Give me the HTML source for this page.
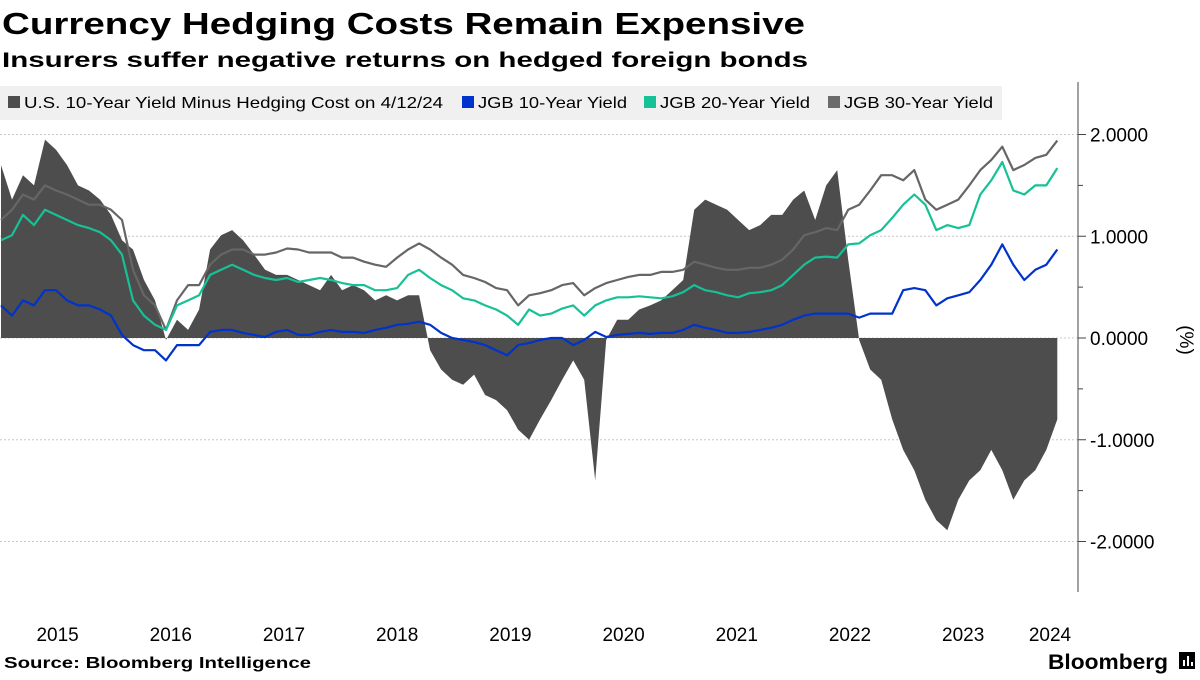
<!DOCTYPE html>
<html><head><meta charset="utf-8"><style>
body{margin:0;background:#fff;width:1200px;height:675px;overflow:hidden;font-family:"Liberation Sans",sans-serif}
svg text{font-family:"Liberation Sans",sans-serif}
</style></head><body>
<svg id="c" width="1200" height="675" xmlns="http://www.w3.org/2000/svg">
<text x="2" y="34" font-size="31" font-weight="bold" fill="#000" textLength="803" lengthAdjust="spacingAndGlyphs">Currency Hedging Costs Remain Expensive</text>
<text x="2" y="67" font-size="21" font-weight="bold" fill="#000" textLength="806" lengthAdjust="spacingAndGlyphs">Insurers suffer negative returns on hedged foreign bonds</text>
<g id="grid"></g>
<g id="plot"></g>
<g>
<rect x="0" y="86" width="1002" height="34" fill="#f0f0f0"/>
<g><rect x="8" y="96" width="12" height="12" fill="#4d4d4d"/><text x="24" y="108" font-size="16" textLength="419" lengthAdjust="spacingAndGlyphs">U.S. 10-Year Yield Minus Hedging Cost on 4/12/24</text></g>
<g><rect x="462" y="96" width="12" height="12" fill="#0033cc"/><text x="478" y="108" font-size="16" textLength="149" lengthAdjust="spacingAndGlyphs">JGB 10-Year Yield</text></g>
<g><rect x="644" y="96" width="12" height="12" fill="#17c196"/><text x="660" y="108" font-size="16" textLength="150" lengthAdjust="spacingAndGlyphs">JGB 20-Year Yield</text></g>
<g><rect x="828" y="96" width="12" height="12" fill="#6b6b6b"/><text x="844" y="108" font-size="16" textLength="149" lengthAdjust="spacingAndGlyphs">JGB 30-Year Yield</text></g>
</g>
<g id="yaxis"></g>
<g id="xaxis"></g>
<text transform="translate(1180,340) rotate(90)" text-anchor="middle" font-size="19">(%)</text>
<text x="4" y="668" font-size="16" font-weight="bold" textLength="307" lengthAdjust="spacingAndGlyphs">Source: Bloomberg Intelligence</text>
<text x="1048" y="669" font-size="21" font-weight="bold" textLength="120" lengthAdjust="spacingAndGlyphs">Bloomberg</text>
<g><rect x="1179" y="652" width="16" height="17" fill="#000"/><rect x="1183" y="660" width="2" height="6" fill="#fff"/><rect x="1187" y="656" width="2" height="10" fill="#fff"/><rect x="1191" y="662" width="2" height="4" fill="#fff"/></g>
</svg>
<script>
const startYear = 2015.0;
const stepYears = 0.0972;
const hedged = [1.70,1.36,1.60,1.50,1.95,1.85,1.70,1.50,1.45,1.36,1.21,0.96,0.87,0.57,0.37,-0.02,0.18,0.08,0.28,0.87,1.01,1.06,0.96,0.82,0.67,0.62,0.62,0.57,0.52,0.47,0.62,0.47,0.52,0.47,0.37,0.42,0.37,0.42,0.42,-0.12,-0.31,-0.41,-0.46,-0.36,-0.56,-0.61,-0.71,-0.90,-1.00,-0.80,-0.61,-0.41,-0.22,-0.41,-1.40,-0.02,0.18,0.18,0.28,0.32,0.37,0.47,0.57,1.26,1.36,1.31,1.26,1.16,1.06,1.11,1.21,1.21,1.36,1.45,1.16,1.50,1.65,0.77,-0.02,-0.31,-0.41,-0.80,-1.10,-1.30,-1.59,-1.79,-1.89,-1.59,-1.40,-1.30,-1.10,-1.30,-1.59,-1.40,-1.30,-1.10,-0.80];
const jgb10 = [0.32,0.22,0.37,0.32,0.47,0.47,0.37,0.32,0.32,0.28,0.22,0.03,-0.07,-0.12,-0.12,-0.22,-0.07,-0.07,-0.07,0.06,0.08,0.08,0.05,0.03,0.01,0.06,0.08,0.03,0.03,0.06,0.08,0.06,0.06,0.05,0.08,0.10,0.13,0.14,0.16,0.13,0.05,0.00,-0.02,-0.04,-0.07,-0.12,-0.17,-0.07,-0.05,-0.02,0.00,0.00,-0.07,-0.02,0.06,0.01,0.03,0.04,0.05,0.04,0.05,0.05,0.08,0.13,0.10,0.08,0.05,0.05,0.06,0.08,0.10,0.13,0.18,0.22,0.24,0.24,0.24,0.24,0.20,0.24,0.24,0.24,0.47,0.49,0.47,0.32,0.39,0.42,0.45,0.57,0.72,0.92,0.72,0.57,0.67,0.72,0.87];
const jgb20 = [0.96,1.01,1.21,1.11,1.26,1.21,1.16,1.11,1.08,1.04,0.96,0.82,0.37,0.22,0.13,0.08,0.32,0.37,0.42,0.62,0.67,0.72,0.67,0.62,0.59,0.57,0.59,0.55,0.57,0.59,0.57,0.54,0.52,0.52,0.47,0.47,0.49,0.62,0.67,0.59,0.52,0.47,0.39,0.37,0.32,0.28,0.22,0.13,0.28,0.22,0.24,0.29,0.32,0.22,0.32,0.37,0.40,0.40,0.41,0.40,0.39,0.41,0.45,0.52,0.47,0.45,0.42,0.40,0.44,0.45,0.47,0.52,0.62,0.72,0.79,0.80,0.79,0.92,0.93,1.01,1.06,1.18,1.31,1.41,1.31,1.06,1.11,1.08,1.11,1.41,1.55,1.73,1.45,1.41,1.50,1.50,1.67];
const jgb30 = [1.16,1.26,1.41,1.36,1.50,1.45,1.41,1.36,1.31,1.31,1.26,1.16,0.67,0.42,0.32,0.08,0.37,0.52,0.52,0.72,0.82,0.87,0.87,0.82,0.82,0.84,0.88,0.87,0.84,0.84,0.84,0.79,0.79,0.75,0.72,0.70,0.79,0.87,0.93,0.87,0.79,0.72,0.62,0.59,0.55,0.49,0.47,0.32,0.42,0.44,0.47,0.52,0.54,0.42,0.49,0.54,0.57,0.60,0.62,0.62,0.65,0.65,0.67,0.75,0.72,0.69,0.67,0.67,0.69,0.69,0.72,0.77,0.87,1.01,1.04,1.08,1.06,1.26,1.31,1.45,1.60,1.60,1.55,1.65,1.36,1.26,1.31,1.36,1.50,1.65,1.75,1.88,1.65,1.70,1.77,1.80,1.94];
const yTicks = [2,1,0,-1,-2];
const yTickLabels = ["2.0000","1.0000","0.0000","-1.0000","-2.0000"];
const xYears = [2015,2016,2017,2018,2019,2020,2021,2022,2023,2024];

const NS="http://www.w3.org/2000/svg";
const X=t=>(t-2015)*113.2+1;
const Y=v=>338-v*101.75;
const tx=i=>X(startYear+i*stepYears);
function mk(tag,attrs,parent){const e=document.createElementNS(NS,tag);for(const k in attrs)e.setAttribute(k,attrs[k]);parent.appendChild(e);return e;}
const grid=document.getElementById('grid'),plot=document.getElementById('plot'),ya=document.getElementById('yaxis'),xa=document.getElementById('xaxis');
yTicks.forEach((v,i)=>{
  const g=mk('line',{x1:0,x2:1078,y1:Y(v),y2:Y(v),stroke:'#c8c8c8','stroke-dasharray':'2,2','stroke-width':1},grid);
  
  
  const tk=mk('line',{x1:1078,x2:1086,y1:Y(v),y2:Y(v),stroke:'#444'},ya);
  
  
  const t=mk('text',{x:1090,y:Y(v)+7,'font-size':19},ya);
  
  
  t.textContent=yTickLabels[i];
});
for(let k=0;k<yTicks.length-1;k++){const m=(yTicks[k]+yTicks[k+1])/2;const s=mk('line',{x1:1078,x2:1083,y1:Y(m),y2:Y(m),stroke:'#444'},ya);}
const ax=mk('line',{x1:1078,x2:1078,y1:82,y2:592,stroke:'#444'},ya);


xYears.forEach(yr=>{
  let cx=X(yr+0.5); if(yr===2024) cx=Math.min(cx,1050);
  const t=mk('text',{x:cx,y:641,'font-size':19,'text-anchor':'middle'},xa);
  
  
  t.textContent=yr;
});
let d='M'+tx(0)+','+Y(0);
hedged.forEach((v,i)=>{d+=' L'+tx(i).toFixed(1)+','+Y(v).toFixed(1);});
d+=' L'+tx(hedged.length-1).toFixed(1)+','+Y(0)+' Z';
const ar=mk('path',{d:d,fill:'#4d4d4d'},plot);


function line(arr,color,name){
  const p=mk('path',{d:arr.map((v,i)=>(i?'L':'M')+tx(i).toFixed(1)+','+Y(v).toFixed(1)).join(' '),fill:'none',stroke:color,'stroke-width':2.2,'stroke-linejoin':'round'},plot);
  
  
}
line(jgb30,'#666666','jgb30-line');
line(jgb20,'#17c196','jgb20-line');
line(jgb10,'#0033cc','jgb10-line');
</script>
</body></html>
